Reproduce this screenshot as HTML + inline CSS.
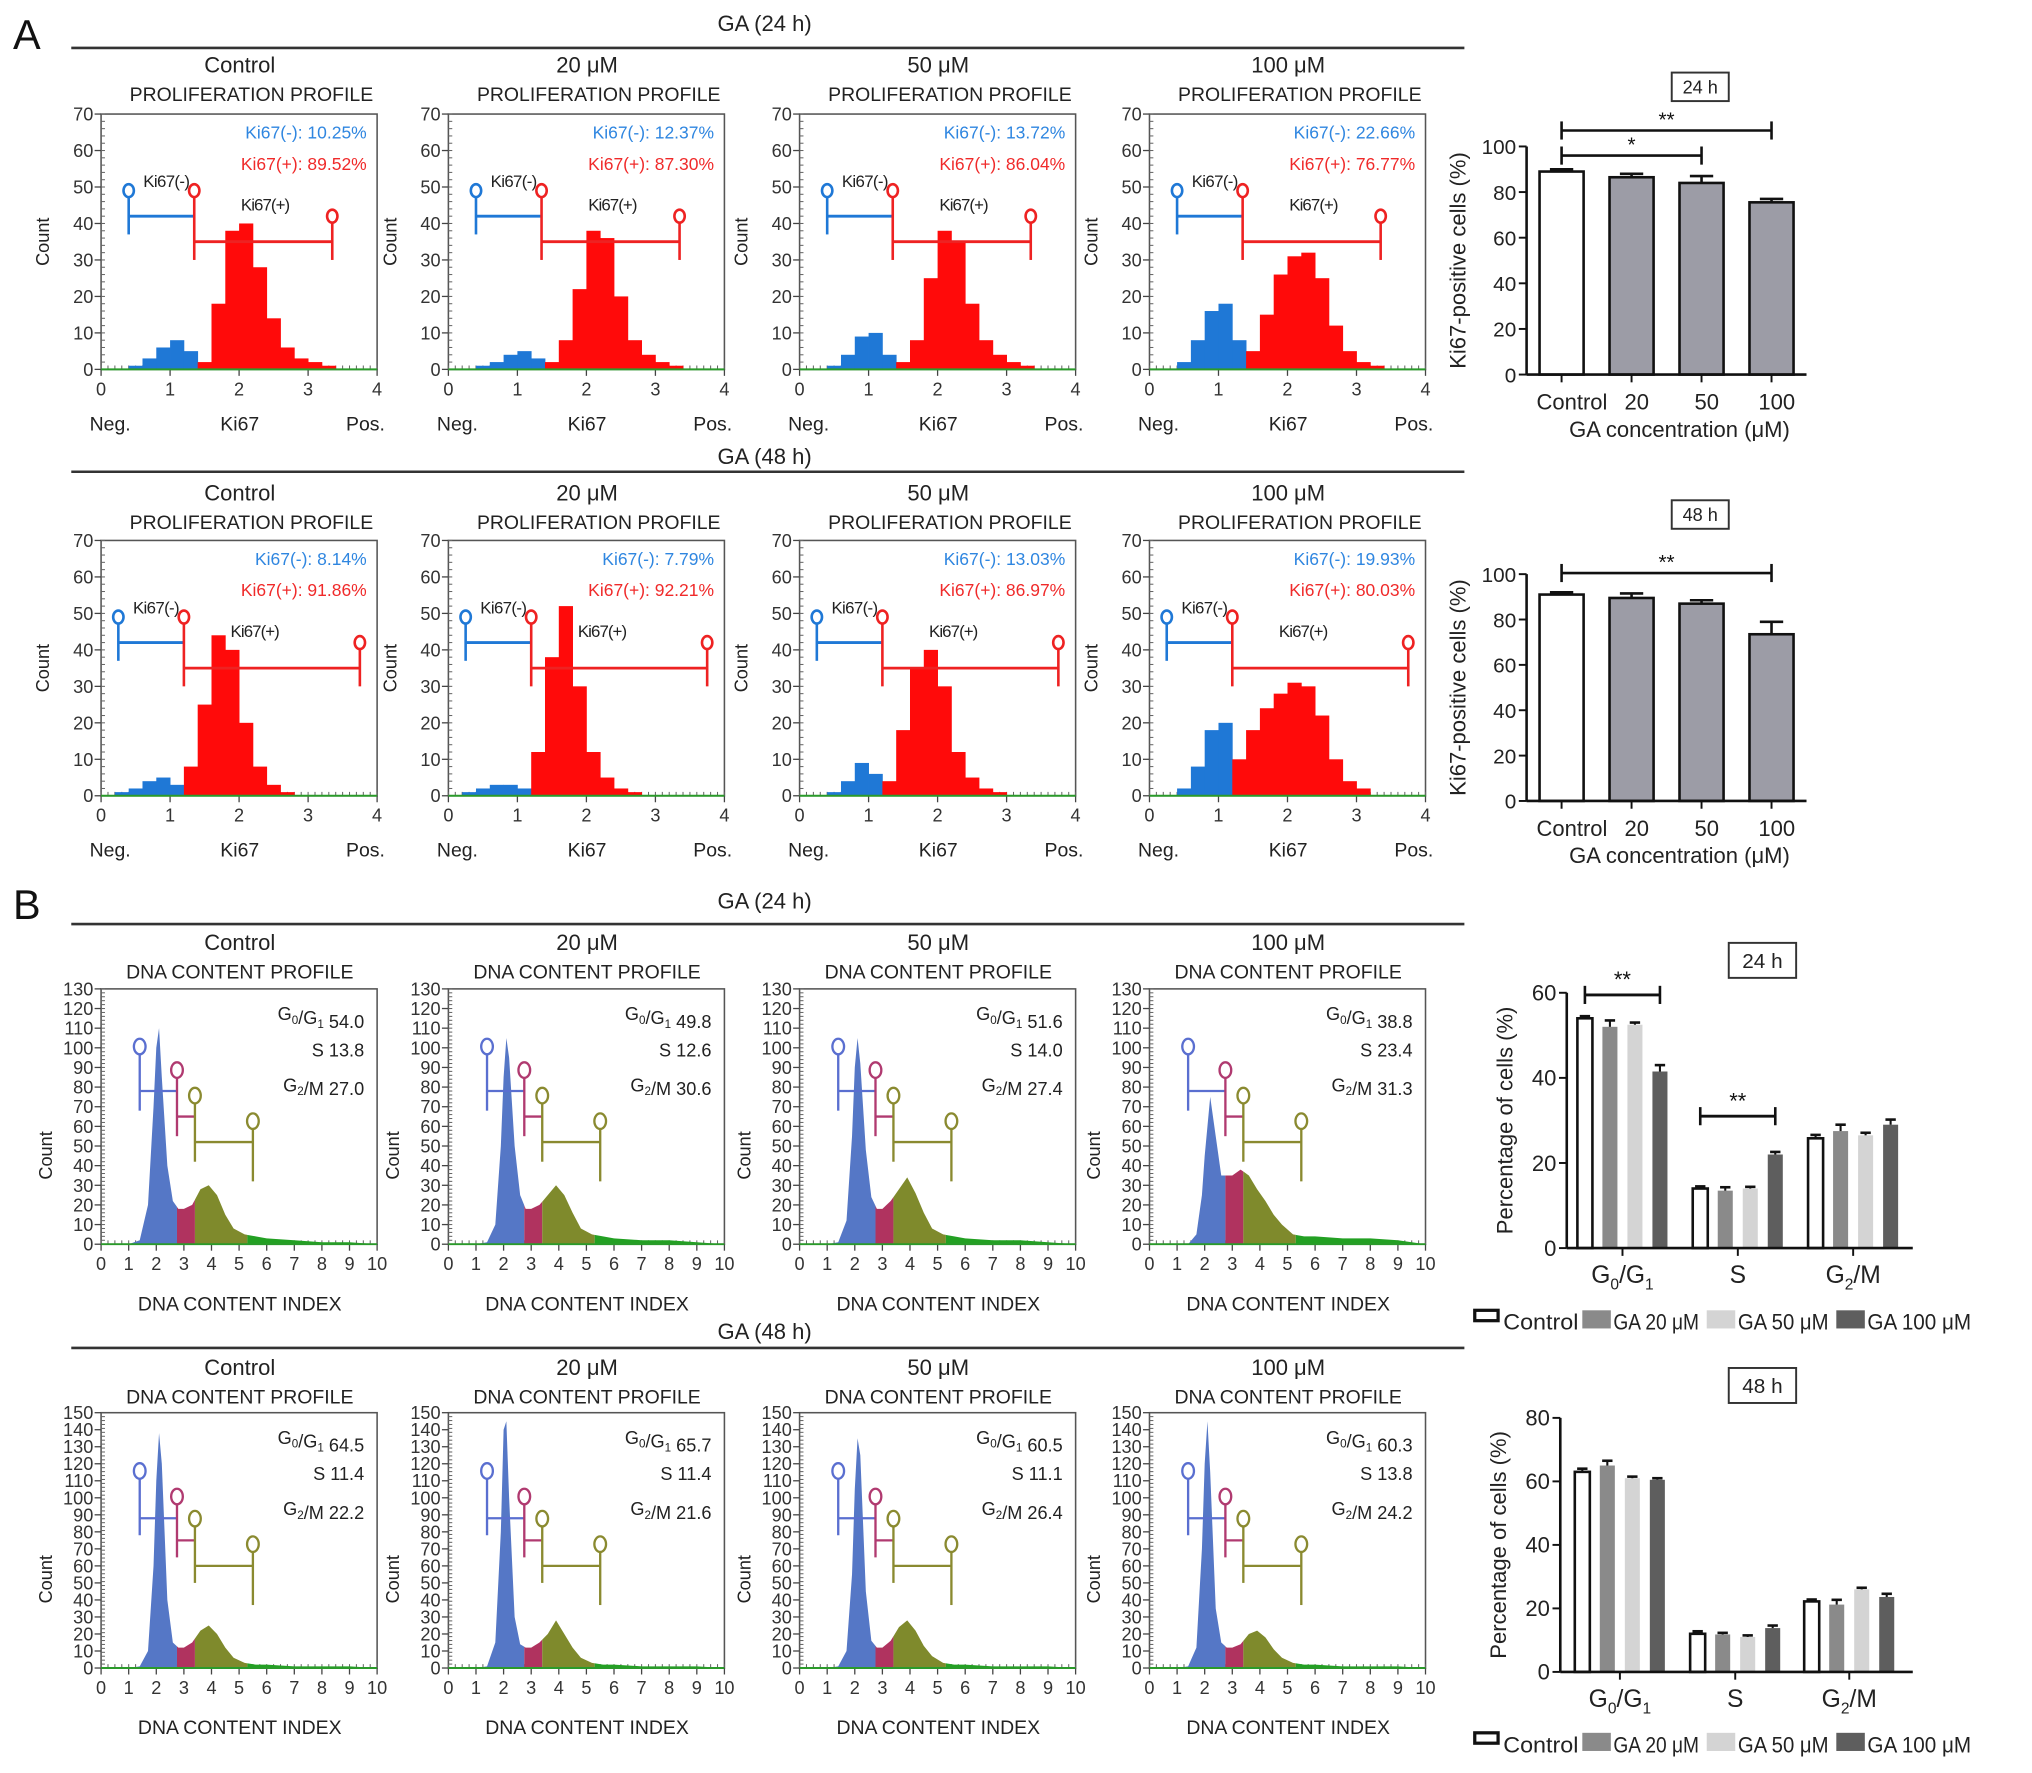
<!DOCTYPE html>
<html><head><meta charset="utf-8"><style>
html,body{margin:0;padding:0;background:#fff;width:2032px;height:1773px;overflow:hidden}
svg{display:block}
text{font-family:"Liberation Sans",Arial,sans-serif}
</style></head><body>
<svg id="fig" width="2032" height="1773" viewBox="0 0 1568 1368" preserveAspectRatio="none" xmlns="http://www.w3.org/2000/svg"></svg>
<script>
// ---------- DATA ----------
const panelTitles = ['Control','20 \u03bcM','50 \u03bcM','100 \u03bcM'];
const ki67XTicks = [0,1,2,3,4];
const ki67YTicks = [0,10,20,30,40,50,60,70];
const dnaXTicks = [0,1,2,3,4,5,6,7,8,9,10];
const dnaYTicks24 = [0,10,20,30,40,50,60,70,80,90,100,110,120,130];
const dnaYTicks48 = [0,10,20,30,40,50,60,70,80,90,100,110,120,130,140,150];
// Ki67 histograms, bins of 0.2 from 0 to 4
const ki67Hist24_c   = [0,0,1,3,6,8,5,2,18,38,40,28,14,6,3,2,1,0,0,0];
const ki67Hist24_20  = [0,0,1,2,4,5,3,2,8,22,38,36,20,8,4,2,1,0,0,0];
const ki67Hist24_50  = [0,0,1,4,9,10,4,2,8,25,38,35,18,8,4,2,1,0,0,0];
const ki67Hist24_100 = [0,0,2,8,16,18,8,5,15,26,31,32,25,12,5,2,1,0,0,0];
const ki67Hist48_c   = [0,1,2,4,5,3,8,25,44,40,20,8,3,1,0,0,0,0,0,0];
const ki67Hist48_20  = [0,1,2,3,3,2,12,38,52,30,12,5,2,1,0,0,0,0,0,0];
const ki67Hist48_50  = [0,0,1,4,9,6,4,18,35,40,30,12,5,2,1,0,0,0,0,0];
const ki67Hist48_100 = [0,0,2,8,18,20,10,18,24,28,31,30,22,10,4,2,0,0,0,0];
const ki67Neg24 = ['10.25%','12.37%','13.72%','22.66%'];
const ki67Pos24 = ['89.52%','87.30%','86.04%','76.77%'];
const ki67Neg48 = ['8.14%','7.79%','13.03%','19.93%'];
const ki67Pos48 = ['91.86%','92.21%','86.97%','80.03%'];
const ki67Gate24 = [0.4,1.35,3.35];
const ki67Gate48 = [0.25,1.2,3.75];
// DNA histograms sampled at dnaX positions
const dnaX = [1.0,1.4,1.7,1.9,2.0,2.1,2.2,2.4,2.6,2.8,3.0,3.3,3.6,3.9,4.2,4.5,4.8,5.2,5.6,6,7,8,9,10];
const dna24_c   = [0,2,20,70,100,110,85,40,22,18,18,20,28,30,25,15,8,5,4,3,2,1,1,0];
const dna24_20  = [0,1,10,50,85,105,95,50,25,18,18,20,25,30,25,16,8,5,4,3,2,2,1,0];
const dna24_50  = [0,1,12,55,90,105,92,48,24,18,18,22,28,34,26,16,8,5,4,3,2,2,1,0];
const dna24_100 = [0,0,5,25,45,60,75,55,35,35,35,38,35,28,22,15,10,5,4,4,3,3,2,0];
const dna48_c   = [0,1,10,60,110,138,120,40,15,12,12,15,22,25,20,12,6,3,2,2,1,1,1,0];
const dna48_20  = [0,1,15,80,140,145,100,30,14,12,12,15,20,28,20,12,6,3,2,2,1,1,1,0];
const dna48_50  = [0,1,10,55,105,135,125,45,16,12,12,16,24,28,22,13,7,3,2,2,1,1,1,0];
const dna48_100 = [0,1,12,70,120,145,115,35,15,12,12,14,20,22,18,11,6,3,2,2,1,1,1,0];
const dnaG0_24 = ['54.0','49.8','51.6','38.8'];
const dnaS_24  = ['13.8','12.6','14.0','23.4'];
const dnaG2_24 = ['27.0','30.6','27.4','31.3'];
const dnaG0_48 = ['64.5','65.7','60.5','60.3'];
const dnaS_48  = ['11.4','11.4','11.1','13.8'];
const dnaG2_48 = ['22.2','21.6','26.4','24.2'];
const dnaGateX = [1.4,2.75,3.4,5.5];
const dnaGate24Y = [100,78,88,65,75,52,62,32];
const dnaGate48Y = [115,88,100,75,87,60,72,37];
// Ki67 bar charts
const ki67Cats = ['Control','20','50','100'];
const ki67Bar24 = [89,86.5,84,75.5];
const ki67Err24 = [1,1.5,3,1.5];
const ki67Bar48 = [91,89.5,87,73.5];
const ki67Err48 = [1,2,1.5,5.5];
const ki67BarTicks = [0,20,40,60,80,100];
// cell cycle bar charts
const cycleCats = ['G0/G1','S','G2/M'];
const cycleSeries = ['Control','GA 20 \u03bcM','GA 50 \u03bcM','GA 100 \u03bcM'];
const cycle24 = [[54,52,52.5,41.5],[14,13.5,14,22],[25.8,27.5,26.5,29]];
const cycleErr24 = [[0.5,1.5,0.5,1.5],[0.5,0.8,0.4,0.6],[0.8,1.5,0.6,1.2]];
const cycle48 = [[63,65,61,60.5],[12,11.8,11,13.8],[22.2,21.2,26,23.6]];
const cycleErr48 = [[1,1.5,0.5,0.5],[0.8,0.5,0.5,0.8],[0.6,1.5,0.5,1]];
const cycleTicks24 = [0,20,40,60];
const cycleTicks48 = [0,20,40,60,80];

// ---------- HELPERS ----------
const NS='http://www.w3.org/2000/svg';
const svg=document.getElementById('fig');
let uid=0;
function mk(tag,attrs,parent,txt){const e=document.createElementNS(NS,tag);for(const k in attrs)e.setAttribute(k,attrs[k]);if(txt!==undefined)e.textContent=txt;(parent||svg).appendChild(e);return e;}
function grp(name,parent){const g=mk('g',{},parent);


return g;}
function txt(p,x,y,s,size,anchor,fill,name,extra){const t=mk('text',Object.assign({x:x,y:y,'font-size':size,'text-anchor':anchor||'middle',fill:fill||'#222'},extra||{}),p,s);


return t;}
function ln(p,x1,y1,x2,y2,stroke,w){return mk('line',{x1:x1,y1:y1,x2:x2,y2:y2,stroke:stroke||'#222','stroke-width':w||1},p);}

const PW=213, PH=197, PX=[78,346,617,887];

// ---------- FIGURE FRAME ----------
txt(svg,10,38,'A',32,'start','#111','panel-letter-a');
txt(svg,10,709,'B',32,'start','#111','panel-letter-b');
function header(y,lineY,s,name){const g=grp(name);txt(g,590,y,s,17,'middle','#222','header-text');ln(g,55,lineY,1130,lineY,'#333',2);}
header(24,37,'GA (24 h)','header-a-24h');
header(358,364,'GA (48 h)','header-a-48h');
header(701,713,'GA (24 h)','header-b-24h');
header(1033,1040,'GA (48 h)','header-b-48h');

function frame(g,L,T,xmax,ymax,xt,yt,minorX,minorY){
  const sx=v=>L+v/xmax*PW, sy=v=>T+PH-v/ymax*PH;
  mk('rect',{x:L,y:T,width:PW,height:PH,fill:'none',stroke:'#555','stroke-width':1.2},g);
  yt.forEach(v=>{ln(g,L-5,sy(v),L,sy(v),'#444',1);txt(g,L-6,sy(v)+5,String(v),14,'end','#333','y-tick-label');});
  for(let v=0;v<=ymax;v+=minorY){ln(g,L,sy(v),L+3,sy(v),'#666',0.8);}
  xt.forEach(v=>{ln(g,sx(v),T+PH,sx(v),T+PH+5,'#444',1);txt(g,sx(v),T+PH+20,String(v),14,'middle','#333','x-tick-label');});
  for(let v=0;v<=xmax+1e-9;v+=minorX){ln(g,sx(v),T+PH,sx(v),T+PH-3,'#666',0.8);}
  return {sx,sy};
}

// ---------- Ki67 PANELS ----------
function ki67Panel(i,T,hist,neg,pos,gate,titleY){
  const L=PX[i];const g=grp('ki67-histogram-'+(T<300?'24h':'48h')+'-'+i);
  txt(g,L+107,titleY,panelTitles[i],17,'middle','#222','panel-title');
  txt(g,L+116,titleY+22,'PROLIFERATION PROFILE',15,'middle','#222','panel-subtitle');
  const {sx,sy}=frame(g,L,T,4,70,ki67XTicks,ki67YTicks,0.1,2);
  const bw=0.2;
  hist.forEach((v,k)=>{const x0=k*bw;const c=x0+bw/2<gate[1]?'#1f78d6':'#ff0a0a';
    const r=mk('rect',{x:sx(x0),y:sy(v),width:sx(x0+bw)-sx(x0)+0.3,height:sy(0)-sy(v),fill:c},g);
    
    
  });
  ln(g,L,sy(0),L+PW,sy(0),'#2a9a2a',1.5);
  const bl='#1f78d6',rd='#ee2222';
  ln(g,sx(gate[0]),sy(37),sx(gate[0]),sy(47),bl,2);mk('ellipse',{cx:sx(gate[0]),cy:sy(49),rx:4,ry:5,fill:'#fff',stroke:bl,'stroke-width':2},g);
  ln(g,sx(gate[0]),sy(42),sx(gate[1]),sy(42),bl,2.2);
  ln(g,sx(gate[1]),sy(30),sx(gate[1]),sy(47),rd,2);mk('ellipse',{cx:sx(gate[1]),cy:sy(49),rx:4,ry:5,fill:'#fff',stroke:rd,'stroke-width':2},g);
  ln(g,sx(gate[1]),sy(35),sx(gate[2]),sy(35),rd,2.2);
  ln(g,sx(gate[2]),sy(30),sx(gate[2]),sy(40),rd,2);mk('ellipse',{cx:sx(gate[2]),cy:sy(42),rx:4,ry:5,fill:'#fff',stroke:rd,'stroke-width':2},g);
  txt(g,sx((gate[0]+gate[1])/2)+4,sy(50),'Ki67(-)',13,'middle','#222','gate-label-neg',{'textLength':36});
  txt(g,sx(gate[1])+55,sy(43.5),'Ki67(+)',13,'middle','#222','gate-label-pos',{'textLength':38});
  txt(g,L+PW-8,T+19,'Ki67(-): '+neg,13.5,'end','#2f86e0','neg-percent');
  txt(g,L+PW-8,T+43,'Ki67(+): '+pos,13.5,'end','#f02a2a','pos-percent');
  txt(g,L+7,T+PH+47,'Neg.',15,'middle','#222','x-axis-neg');
  txt(g,L+107,T+PH+47,'Ki67',15,'middle','#222','x-axis-title');
  txt(g,L+204,T+PH+47,'Pos.',15,'middle','#222','x-axis-pos');
  txt(g,0,0,'Count',14,'middle','#222','y-axis-title',{transform:`translate(${L-40},${T+PH/2}) rotate(-90)`});
}
const k24=[ki67Hist24_c,ki67Hist24_20,ki67Hist24_50,ki67Hist24_100];
const k48=[ki67Hist48_c,ki67Hist48_20,ki67Hist48_50,ki67Hist48_100];
for(let i=0;i<4;i++){ki67Panel(i,88,k24[i],ki67Neg24[i],ki67Pos24[i],ki67Gate24,56);}
for(let i=0;i<4;i++){ki67Panel(i,417,k48[i],ki67Neg48[i],ki67Pos48[i],ki67Gate48,386);}

// ---------- DNA PANELS ----------
function statLine(g,x,y,pre,subs,val,name){const t=mk('text',{x:x,y:y,'font-size':14,'text-anchor':'end',fill:'#222'},g);
  
  
  pre.forEach((p,k)=>{mk('tspan',{},t,p);if(subs[k]!==undefined){mk('tspan',{'font-size':9,dy:3},t,subs[k]);mk('tspan',{dy:-3},t,'');}});
  mk('tspan',{},t,' '+val);}
function dnaPanel(i,T,ymax,yt,data,g0,s,g2,gy,titleY,tag){
  const L=PX[i];const g=grp('dna-histogram-'+tag+'-'+i);
  txt(g,L+107,titleY,panelTitles[i],17,'middle','#222','panel-title');
  txt(g,L+107,titleY+22,'DNA CONTENT PROFILE',15,'middle','#222','panel-subtitle');
  const {sx,sy}=frame(g,L,T,10,ymax,dnaXTicks,yt,0.25,ymax/65);
  let pts=`${sx(0)},${sy(0)} `;dnaX.forEach((x,k)=>{pts+=`${sx(x)},${sy(data[k])} `;});pts+=`${sx(10)},${sy(0)}`;
  const regions=[[0,dnaGateX[1],'#5577c6'],[dnaGateX[1],dnaGateX[2],'#b0335f'],[dnaGateX[2],5.3,'#7f8a2c'],[5.3,10,'#23a023']];
  regions.forEach((r,k)=>{const id='c'+(uid++);const cp=mk('clipPath',{id:id},g);mk('rect',{x:sx(r[0]),y:T,width:sx(r[1])-sx(r[0]),height:PH},cp);
    const p=mk('polygon',{points:pts,fill:r[2],'clip-path':`url(#${id})`},g);
    
    });
  ln(g,L,sy(0),L+PW,sy(0),'#2a9a2a',1.5);
  const cB='#5a6fd0',cM='#b03a70',cO='#8a8a30';
  const circ=(x,y,c)=>mk('ellipse',{cx:sx(x),cy:sy(y)-1,rx:4.5,ry:6,fill:'#fff',stroke:c,'stroke-width':1.8},g);
  const X=dnaGateX;
  ln(g,sx(X[0]),sy(gy[1]-10),sx(X[0]),sy(gy[0])+5,cB,1.8);circ(X[0],gy[0],cB);ln(g,sx(X[0]),sy(gy[1]),sx(X[1]),sy(gy[1]),cB,1.8);
  ln(g,sx(X[1]),sy(gy[3]-10),sx(X[1]),sy(gy[2])+5,cM,1.8);circ(X[1],gy[2],cM);ln(g,sx(X[1]),sy(gy[3]),sx(X[2]),sy(gy[3]),cM,1.8);
  ln(g,sx(X[2]),sy(gy[5]-10),sx(X[2]),sy(gy[4])+5,cO,1.8);circ(X[2],gy[4],cO);ln(g,sx(X[2]),sy(gy[5]),sx(X[3]),sy(gy[5]),cO,1.8);
  ln(g,sx(X[3]),sy(gy[7]),sx(X[3]),sy(gy[6])+5,cO,1.8);circ(X[3],gy[6],cO);
  statLine(g,L+PW-10,T+24,['G','/G'],['0','1'],g0,'g0g1-percent');
  statLine(g,L+PW-10,T+52,['S'],[],s,'s-percent');
  statLine(g,L+PW-10,T+79,['G','/M'],['2'],g2,'g2m-percent');
  txt(g,L+107,T+PH+51,'DNA CONTENT INDEX',15,'middle','#222','x-axis-title');
  txt(g,0,0,'Count',14,'middle','#222','y-axis-title',{transform:`translate(${L-38},${T+PH/2+30}) rotate(-90)`});
}
const d24=[dna24_c,dna24_20,dna24_50,dna24_100], d48=[dna48_c,dna48_20,dna48_50,dna48_100];
for(let i=0;i<4;i++)dnaPanel(i,763,130,dnaYTicks24,d24[i],dnaG0_24[i],dnaS_24[i],dnaG2_24[i],dnaGate24Y,733,'24h');
for(let i=0;i<4;i++)dnaPanel(i,1090,150,dnaYTicks48,d48[i],dnaG0_48[i],dnaS_48[i],dnaG2_48[i],dnaGate48Y,1061,'48h');

// ---------- Ki67 BAR CHARTS ----------
function boxLabel(g,cx,cy,w,h,s,fs){mk('rect',{x:cx-w/2,y:cy-h/2,width:w,height:h,fill:'#fff',stroke:'#333','stroke-width':1.5},g);txt(g,cx,cy+fs*0.36,s,fs,'middle','#222','time-box-label');}
function ki67Bars(name,bottom,top,vals,errs,brackets,boxY){
  const g=grp(name);const ax=1178,xEnd=1394;const sy=v=>bottom-v/100*(bottom-top);const cx=i=>1205+54*i;
  boxLabel(g,1312,boxY,44,22,name.indexOf('24')>0?'24 h':'48 h',14);
  vals.forEach((v,i)=>{const r=mk('rect',{x:cx(i)-17,y:sy(v),width:34,height:sy(0)-sy(v),fill:i?'#9c9ca6':'#fff',stroke:'#111','stroke-width':2},g);
    
    
    ln(g,cx(i),sy(v),cx(i),sy(v+errs[i]),'#111',2);ln(g,cx(i)-9,sy(v+errs[i]),cx(i)+9,sy(v+errs[i]),'#111',2);
    ln(g,cx(i),sy(0),cx(i),sy(0)+6,'#111',1.5);
    txt(g,cx(i)+(i?4:8),bottom+27,ki67Cats[i],17,'middle','#222','x-tick-label');});
  ln(g,ax,sy(0),xEnd,sy(0),'#111',2);ln(g,ax,sy(0),ax,sy(100),'#111',2);
  ki67BarTicks.forEach(v=>{ln(g,ax-6,sy(v),ax,sy(v),'#111',1.5);txt(g,ax-8,sy(v)+6,String(v),16,'end','#222','y-tick-label');});
  brackets.forEach(b=>{const y=sy(b[2]);ln(g,cx(b[0]),y,cx(b[1]),y,'#111',2);ln(g,cx(b[0]),y-7,cx(b[0]),y+7,'#111',2);ln(g,cx(b[1]),y-7,cx(b[1]),y+7,'#111',2);
    txt(g,(cx(b[0])+cx(b[1]))/2,y-3,b[3],16,'middle','#111','significance-stars');});
  txt(g,0,0,'Ki67-positive cells (%)',17,'middle','#222','y-axis-title',{transform:`translate(1131,${(top+bottom)/2}) rotate(-90)`});
  txt(g,1296,bottom+48,'GA concentration (\u03bcM)',17,'middle','#222','x-axis-title');
}
ki67Bars('ki67-bar-24h',289,113,ki67Bar24,ki67Err24,[[0,3,107,'**'],[0,2,96,'*']],67);
ki67Bars('ki67-bar-48h',618,443,ki67Bar48,ki67Err48,[[0,3,100.5,'**']],397);

// ---------- CELL CYCLE BAR CHARTS ----------
const seriesFill=['#fff','#8a8a8a','#d4d4d4','#5e5e5e'];
function cycleBars(name,ax,bottom,top,ymax,ticks,vals,errs,brackets,boxY,legendY,gc){
  const g=grp(name);const xEnd=1476;const sy=v=>bottom-v/ymax*(bottom-top);
  boxLabel(g,1360,boxY,52,27,name.indexOf('24')>0?'24 h':'48 h',16);
  vals.forEach((grpv,gi)=>{grpv.forEach((v,si)=>{const x=gc[gi]-29+si*19.3;
    const r=mk('rect',{x:x-5.8,y:sy(v),width:11.6,height:sy(0)-sy(v),fill:seriesFill[si],stroke:si?'none':'#111','stroke-width':2},g);
    
    
    const e=errs[gi][si];ln(g,x,sy(v),x,sy(v+e),'#111',1.6);ln(g,x-4,sy(v+e),x+4,sy(v+e),'#111',2);});
    ln(g,gc[gi],sy(0),gc[gi],sy(0)+6,'#111',1.5);});
  ln(g,ax,sy(0),xEnd,sy(0),'#111',2);ln(g,ax,sy(0),ax,sy(ymax),'#111',2);
  ticks.forEach(v=>{ln(g,ax-6,sy(v),ax,sy(v),'#111',1.5);txt(g,ax-8,sy(v)+6,String(v),17,'end','#222','y-tick-label');});
  const t0=mk('text',{x:gc[0],y:bottom+27,'font-size':19,'text-anchor':'middle',fill:'#222'},g);
  
  
  mk('tspan',{},t0,'G');mk('tspan',{'font-size':12,dy:5},t0,'0');mk('tspan',{dy:-5},t0,'/G');mk('tspan',{'font-size':12,dy:5},t0,'1');
  txt(g,gc[1],bottom+27,'S',19,'middle','#222','x-tick-label');
  const t2=mk('text',{x:gc[2],y:bottom+27,'font-size':19,'text-anchor':'middle',fill:'#222'},g);
  
  
  mk('tspan',{},t2,'G');mk('tspan',{'font-size':12,dy:5},t2,'2');mk('tspan',{dy:-5},t2,'/M');
  brackets.forEach(b=>{const x1=gc[b[0]]-29+b[1]*19.3,x2=gc[b[0]]-29+b[2]*19.3,y=sy(b[3]);
    ln(g,x1,y,x2,y,'#111',2.2);ln(g,x1,y-7,x1,y+7,'#111',2);ln(g,x2,y-7,x2,y+7,'#111',2);
    txt(g,(x1+x2)/2,y-6,'**',17,'middle','#111','significance-stars');});
  txt(g,0,0,'Percentage of cells (%)',17,'middle','#222','y-axis-title',{transform:`translate(${ax-42},${(top+bottom)/2}) rotate(-90)`});
  const lx=[1137,1221,1317,1417];
  const lw=[58,66,70,80];
  cycleSeries.forEach((s,si)=>{const lg=grp('legend-entry-'+si,g);
    mk('rect',{x:lx[si]+(si?0:1),y:legendY-10,width:si?22:18,height:si?14:8,fill:seriesFill[si],stroke:si?'none':'#111','stroke-width':2.5},lg);
    txt(lg,lx[si]+(si?24:23),legendY+5,s,17,'start','#222','legend-label',{textLength:lw[si],lengthAdjust:'spacingAndGlyphs'});});
}
cycleBars('cycle-bar-24h',1209,963,766,60,cycleTicks24,cycle24,cycleErr24,[[0,0,3,59.5],[1,0,3,31]],741,1021,[1252,1341,1430]);
cycleBars('cycle-bar-48h',1204,1290,1094,80,cycleTicks48,cycle48,cycleErr48,[],1069,1347,[1250,1339,1427]);
</script>
</body></html>
